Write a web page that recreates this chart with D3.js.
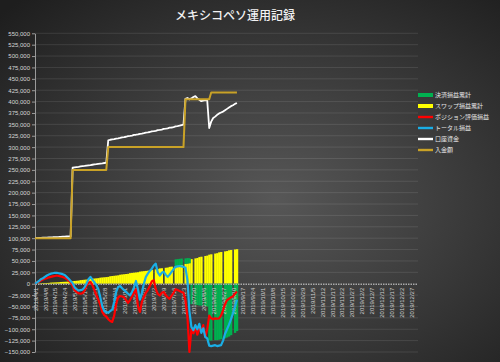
<html>
<head>
    <meta charset="utf-8">
    <script src="https://d3js.org/d3.v7.min.js"></script>
    <style>
        body { margin: 0; background: #222; }
    </style>
</head>

<body>
    <svg id="chart"></svg>

    <script>
        var Width = 500, Height = 362;

        // category labels (every 5th category of the date axis)
        var xLabels = ["2019/4/1", "2019/4/8", "2019/4/15", "2019/4/24", "2019/5/7", "2019/5/14", "2019/5/21", "2019/5/28",
            "2019/6/4", "2019/6/11", "2019/6/18", "2019/6/25", "2019/7/2", "2019/7/9", "2019/7/16", "2019/7/23", "2019/7/30",
            "2019/8/6", "2019/8/20", "2019/8/27", "2019/9/10", "2019/9/17", "2019/9/24", "2019/10/1", "2019/10/8",
            "2019/10/15", "2019/10/22", "2019/10/29", "2019/11/5", "2019/11/12", "2019/11/17", "2019/11/22", "2019/11/27",
            "2019/12/2", "2019/12/7", "2019/12/12", "2019/12/17", "2019/12/22", "2019/12/27"];
        var NCats = 194;

        // values in thousands of yen, one per category from 2019/4/1
        var swap = [   // スワップ損益累計
            0.2, 0.4, 0.6, 1.0, 1.2, 1.4, 1.6, 1.8, 2.4, 2.6,
            2.8, 3.0, 3.2, 3.8, 4.0, 4.2, 4.4, 4.6, 5.2, 5.6,
            6.0, 6.4, 6.8, 7.9, 8.3, 8.7, 9.1, 9.5, 10.6, 11.0,
            11.4, 11.8, 12.2, 13.3, 13.7, 14.1, 14.5, 15.0, 16.4, 16.9,
            17.4, 17.9, 18.4, 19.8, 20.3, 20.8, 21.3, 21.8, 23.2, 23.7,
            24.2, 24.7, 25.2, 26.6, 27.1, 27.6, 28.1, 28.6, 30.0, 30.5,
            null, 31.5, 32.0, 33.5, 34.0, null, 35.0, 35.5, 37.0, 37.5,
            null, 38.5, 39.0, 40.6, 41.2, null, 43.5, 44.2, 45.0, 54.0,
            null, 55.6, 56.4, 58.5, 59.3, null, 60.9, 61.7, 63.8, 64.6,
            null, 66.2, 67.0, 68.9, 69.6, null, 71.0, 71.7, 73.4, 74.0,
            null, 75.2, 75.8];
        var settled = [   // 決済損益累計
            0, 0, 0, 0, 0, 0, 0, 0, 0, 0,
            0, 0, 0, 0, 0, 0, 0, 0, 0, 0,
            0, 0, 0, 0, 0, 0, 0, 0, 0, 0,
            0, 0, 0, 0, 0, 0, 0, 0, 0, 0,
            0, 0, 0, 0, 0, 0, 0, 0, 0, 0,
            0, 0, 0, 0, 0, 0, 0, 0, 0, 0,
            null, 0, 0, 0, 0, null, 0, 0, 0, 0,
            null, 15, 15, 14, 14, null, 12, 12, 11, -45,
            null, -46, -47, -48, -48, null, -49, -50, -125, -125,
            null, -124, -124, -123, -122, null, -120, -118, -116, -113,
            null, -108, -104];
        var position = [   // ポジション評価損益
            0, 3, 4, 7, 9, 11, 12, 14, 15, 16,
            17, 18, 17, 16, 15, 13, 10, 7, 3, -5,
            -14, -18, -21, -22, -21, -15, -5, 2, 4, -3,
            -14, -25, -35, -47, -62, -69, -72, -78, -82, -84,
            -70, -44, -30, -27, -28, -30, -36, -42, -36, -28,
            -20, -12, -50, -62, -40, -29, -20, -14, -5, 5,
            8, -12, -22, -26, -20, -18, -25, -30, -33, -26,
            -20, -12, -14, -16, -18, -20, -36, -73, -150, -100,
            -109, -95, -112, -99, -105, -91, -117, -100, -70, -76,
            -78, -76, -77, -76, -70, -58, -45, -36, -33, -30,
            -28, -22, -17];
        var total = [   // トータル損益
            0, 3, 6, 10, 12, 15, 18, 20, 22, 23,
            24, 24, 23, 22, 21, 19, 15, 11, 6, 1,
            -8, -12, -15, -14, -13, -8, 0, 10, 15, 9,
            3, -3, -12, -30, -50, -60, -62, -64, -60, -57,
            -40, -18, -7, -5, -10, -14, -18, -22, -26, -18,
            -8, 6, -12, -35, -20, 0, 15, 22, 28, 33,
            40, 44, 25, 18, 24, 26, 20, 15, 20, 26,
            32, 37, 38, 39, 38, 37, 35, 8, -60, -95,
            -102, -91, -100, -88, -108, -98, -117, -120, -136, -137,
            -136, -135, -137, -136, -135, -125, -110, -100, -90, -78,
            -65, -50, -35];
        var balance = [   // 口座資金
            100, 100.2, 100.4, 100.6, 100.9, 101.1, 101.3, 101.6, 101.8, 102,
            102.3, 102.5, 102.7, 103, 103.2, 103.4, 103.7, 103.9, 104.2, 255,
            255.6, 256.2, 256.8, 257.5, 258.1, 258.7, 259.4, 260, 260.6, 261.3,
            261.9, 262.5, 263.2, 263.8, 264.4, 265.1, 265.7, 315, 316.2, 316.9,
            317.5, 318.8, 319.4, 320.1, 321.5, 322.0, 322.8, 324.1, 324.6, 325.3,
            326.7, 327.2, 328.0, 329.3, 329.8, 330.6, 331.9, 332.4, 333.2, 334.6,
            335.1, 335.9, 337.2, 337.7, 338.5, 339.9, 340.4, 341.2, 342.6, 343.1,
            344.0, 345.4, 346.0, 347.0, 348.3, 349.5, 406, 408, 405, 407,
            410, 412, 407, 404, 401, 402, 403, 402, 342, 356,
            364, 367, 371, 374, 376, 378, 381, 384, 387, 390,
            392, 395, 397];
        var deposit = [   // 入金額
            100, 100, 100, 100, 100, 100, 100, 100, 100, 100,
            100, 100, 100, 100, 100, 100, 100, 100, 100, 250,
            250, 250, 250, 250, 250, 250, 250, 250, 250, 250,
            250, 250, 250, 250, 250, 250, 250, 300, 300, 300,
            300, 300, 300, 300, 300, 300, 300, 300, 300, 300,
            300, 300, 300, 300, 300, 300, 300, 300, 300, 300,
            300, 300, 300, 300, 300, 300, 300, 300, 300, 300,
            300, 300, 300, 300, 300, 300, 405, 405, 405, 405,
            405, 405, 405, 405, 405, 405, 405, 405, 405, 420,
            420, 420, 420, 420, 420, 420, 420, 420, 420, 420,
            420, 420, 420];

        var legendNames = ["決済損益累計", "スワップ損益累計", "ポジション評価損益", "トータル損益", "口座資金", "入金額"];
        var legendColors = ["#00b050", "#ffff00", "#ff0000", "#1aaee6", "#ffffff", "#c9a227"];

        var ScaleX = d3.scaleLinear()
            .domain([0, NCats - 1])
            .range([35, 417.1]);

        var ScaleY = d3.scaleLinear()
            .domain([-150, 550])
            .range([352, 33.3]);

        var svg = d3.select("#chart")
            .attr("width", Width)
            .attr("height", Height);

        // dark excel style background
        var grad = svg.append("defs").append("radialGradient")
            .attr("id", "bg").attr("cx", "55%").attr("cy", "55%").attr("r", "75%");
        grad.append("stop").attr("offset", "0%").attr("stop-color", "#575757");
        grad.append("stop").attr("offset", "100%").attr("stop-color", "#1e1e1e");
        svg.append("rect").attr("width", Width).attr("height", Height).attr("fill", "url(#bg)");

        svg.append("text")
            .attr("x", 235).attr("y", 20)
            .attr("text-anchor", "middle")
            .attr("fill", "#f2f2f2")
            .style("font-family", "'Noto Sans CJK JP'")
            .style("font-size", "12px")
            .style("font-weight", "500")
            .text("メキシコペソ運用記録");

        var yTicks = d3.range(-150, 551, 25);

        // horizontal grid
        svg.append("g").selectAll("line")
            .data(yTicks.filter(function(d){ return d != 0; }))
            .enter().append("line")
                .attr("x1", 35).attr("x2", 418)
                .attr("y1", function(d){ return ScaleY(d); })
                .attr("y2", function(d){ return ScaleY(d); })
                .attr("stroke", "rgba(255,255,255,0.13)")
                .attr("stroke-width", 0.8);

        // y axis
        var yAxis = svg.append("g")
            .attr("transform", "translate(35,0)")
            .call(d3.axisLeft(ScaleY)
                .tickValues(yTicks)
                .tickSize(3)
                .tickSizeOuter(0)
                .tickFormat(function(d){ return d3.format(",")(d * 1000); }));
        yAxis.select(".domain").attr("stroke", "#9a9a9a");
        yAxis.selectAll(".tick line").attr("stroke", "#9a9a9a");
        yAxis.selectAll("text")
            .attr("x", -5)
            .attr("fill", "#d6d6d6")
            .style("font-family", "'Liberation Sans', Arial")
            .style("font-size", "6px");

        // stacked columns: swap at the bottom, settled on top
        var rows = swap.map(function(s, i){
            return { i: i,
                swap: s == null ? 0 : s,
                settled: settled[i] == null ? 0 : settled[i],
                gap: s == null };
        });
        var stacked = d3.stack()
            .keys(["swap", "settled"])
            .offset(d3.stackOffsetDiverging)(rows);
        var barColors = { swap: "#ffff00", settled: "#00b050" };
        var bw = ScaleX(1) - ScaleX(0);

        svg.append("g").selectAll("g")
            .data(stacked)
            .enter().append("g")
                .attr("fill", function(d){ return barColors[d.key]; })
            .selectAll("rect")
            .data(function(d){ return d.filter(function(p){ return !p.data.gap && p[0] != p[1]; }); })
            .enter().append("rect")
                .attr("x", function(p){ return ScaleX(p.data.i) - bw / 2; })
                .attr("width", bw + 0.3)
                .attr("y", function(p){ return ScaleY(Math.max(p[0], p[1])); })
                .attr("height", function(p){ return Math.abs(ScaleY(p[0]) - ScaleY(p[1])); });

        // x axis on the zero line
        var xAxis = svg.append("g")
            .attr("transform", "translate(0," + ScaleY(0) + ")")
            .call(d3.axisBottom(ScaleX)
                .tickValues(d3.range(0, 191, 5))
                .tickSize(0)
                .tickFormat(function(d, i){ return xLabels[i]; }));
        xAxis.select(".domain")
            .attr("stroke", "#a8a8a8")
            .attr("stroke-width", 1.5)
            .attr("stroke-dasharray", "1.5,1");
        xAxis.selectAll("text")
            .attr("transform", "rotate(-90)")
            .attr("x", -4).attr("y", 0)
            .attr("dy", "0.35em")
            .attr("fill", "#cfcfcf")
            .style("text-anchor", "end")
            .style("font-family", "'Liberation Sans', Arial")
            .style("font-size", "6px");

        // lines
        function drawLine(values, color, w)
        {
            var line = d3.line()
                .defined(function(d){ return d != null; })
                .x(function(d, i){ return ScaleX(i); })
                .y(function(d){ return ScaleY(d); });
            svg.append("path")
                .datum(values)
                .attr("d", line)
                .attr("fill", "none")
                .attr("stroke", color)
                .attr("stroke-width", w)
                .attr("stroke-linejoin", "round");
        }
        drawLine(position, legendColors[2], 2.2);
        drawLine(total, legendColors[3], 2.2);
        drawLine(balance, legendColors[4], 1.8);
        drawLine(deposit, legendColors[5], 2);

        // legend
        var legend = svg.append("g").selectAll("g")
            .data(legendNames)
            .enter().append("g")
                .attr("transform", function(d, i){ return "translate(418," + (95 + i * 11) + ")"; });
        legend.append("rect")
            .attr("x", 0).attr("y", function(d, i){ return i < 2 ? -2 : -1.2; })
            .attr("width", 15)
            .attr("height", function(d, i){ return i < 2 ? 4 : 2.4; })
            .attr("fill", function(d, i){ return legendColors[i]; });
        legend.append("text")
            .attr("x", 17).attr("y", 0)
            .attr("dy", "0.35em")
            .attr("fill", "#e6e6e6")
            .style("font-family", "'Noto Sans CJK JP'")
            .style("font-size", "6px")
            .text(function(d){ return d; });
    </script>
</body>
</html>
